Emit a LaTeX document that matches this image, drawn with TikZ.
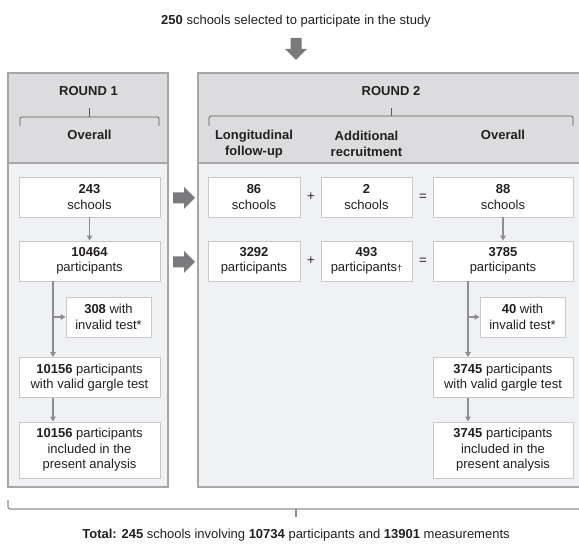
\documentclass[tikz,border=0pt]{standalone}
\usepackage{fontspec}
\setmainfont{Liberation Sans}
\usetikzlibrary{arrows.meta}
\definecolor{headfill}{HTML}{DCDCDE}
\definecolor{bodyfill}{HTML}{F0F1F3}
\definecolor{panelline}{HTML}{A6A6A8}
\definecolor{boxline}{HTML}{C8C8CA}
\definecolor{flowgray}{HTML}{8E8E90}
\definecolor{arrowgray}{HTML}{7A7A7C}
\definecolor{inkgray}{HTML}{231F20}
\tikzset{
  bigarrow/.pic={\fill[arrowgray] (-11,-5.5) -- (0,-5.5) -- (0,-11) -- (11,0) -- (0,11) -- (0,5.5) -- (-11,5.5) -- cycle;}
}

\begin{document}
\begin{tikzpicture}[x=1pt,y=-1pt,text=inkgray,font=\fontsize{13}{15.5}\selectfont,
  panel/.style={draw=panelline,line width=1.4pt},
  box/.style={draw=boxline,fill=white,line width=0.9pt,align=center,inner sep=0pt,minimum height=40pt},
  flow/.style={draw=flowgray,line width=1.3pt,-{Triangle[length=5pt,width=5.5pt]}},
  brace/.style={draw=inkgray!75,line width=0.7pt,rounded corners=2pt},
  sign/.style={inner sep=1pt}]
\useasboundingbox (0,0) rectangle (579,545);
% panels
\fill[bodyfill] (8,73) rectangle (168,487);
\fill[headfill] (8,73) rectangle (168,163);
\fill[bodyfill] (198,73) rectangle (586,487);
\fill[headfill] (198,73) rectangle (586,163);
\draw[panel] (8,163) -- (168,163);
\draw[panel] (198,163) -- (586,163);
\draw[panel] (8,73) rectangle (168,487);
\draw[panel] (198,73) rectangle (586,487);
\node (selected) at (296,21) {\textbf{250} schools selected to participate in the study};
\pic at (296,49) [rotate=-90] {bigarrow};
% headers
\node (r1title) at (88.5,91) {\textbf{ROUND 1}};
\draw[brace] (20,126) -- (20,117) -- (159,117) -- (159,126);
\draw[brace] (89.5,117) -- (89.5,108);
\node (r1overall) at (89.5,135) {\textbf{Overall}};
\node (r2title) at (391,91) {\textbf{ROUND 2}};
\draw[brace] (209,126) -- (209,116) -- (573,116) -- (573,126);
\draw[brace] (391,116) -- (391,108);
\node[align=center] (longi) at (254,144) {\textbf{Longitudinal}\\\textbf{follow-up}};
\node[align=center] (addrec) at (366.5,144) {\textbf{Additional}\\\textbf{recruitment}};
\node (r2overall) at (503,135) {\textbf{Overall}};
% round 1
\node[box,minimum width=141pt] (schA) at (89.5,197) {\textbf{243}\\schools};
\node[box,minimum width=141pt] (partA) at (89.5,261) {\textbf{10464}\\participants};
\node[box,minimum width=85pt] (invA) at (108.5,317) {\textbf{308} with\\invalid test*};
\node[box,minimum width=141pt] (validA) at (89.5,377.5) {\textbf{10156} participants\\with valid gargle test};
\node[box,minimum width=141pt,minimum height=56pt] (finalA) at (89.5,450) {\textbf{10156} participants\\included in the\\present analysis};
\coordinate (trunkA) at (53,0);
\draw[flow] (schA) -- (partA);
\draw[flow] (partA.south -| trunkA) -- (validA.north -| trunkA);
\draw[flow] (invA.west -| trunkA) -- (invA.west);
\draw[flow] (validA.south -| trunkA) -- (finalA.north -| trunkA);
\pic at (184,198) {bigarrow};
\pic at (184,262) {bigarrow};
% round 2
\node[box,minimum width=92pt] (schL) at (254,197) {\textbf{86}\\schools};
\node[sign] (plusS) at (311,197) {+};
\node[box,minimum width=91pt] (schN) at (366.5,197) {\textbf{2}\\schools};
\node[sign] (eqS) at (423,197) {=};
\node[box,minimum width=140pt] (schB) at (503,197) {\textbf{88}\\schools};
\node[box,minimum width=92pt] (partL) at (254,261) {\textbf{3292}\\participants};
\node[sign] (plusP) at (311,261) {+};
\node[box,minimum width=91pt] (partN) at (366.5,261) {\textbf{493}\\participants\raisebox{0.5pt}{\small †}};
\node[sign] (eqP) at (423,261) {=};
\node[box,minimum width=140pt] (partB) at (503,261) {\textbf{3785}\\participants};
\node[box,minimum width=85pt] (invB) at (522.5,317) {\textbf{40} with\\invalid test*};
\node[box,minimum width=140pt] (validB) at (503,377.5) {\textbf{3745} participants\\with valid gargle test};
\node[box,minimum width=140pt,minimum height=56pt] (finalB) at (503,450) {\textbf{3745} participants\\included in the\\present analysis};
\coordinate (trunkB) at (468,0);
\draw[flow] (schB) -- (partB);
\draw[flow] (partB.south -| trunkB) -- (validB.north -| trunkB);
\draw[flow] (invB.west -| trunkB) -- (invB.west);
\draw[flow] (validB.south -| trunkB) -- (finalB.north -| trunkB);
% total
\draw[brace,draw=flowgray,line width=1.1pt] (8,500) -- (8,509) -- (584,509) -- (584,500);
\draw[flowgray,line width=1.1pt] (296,509) -- (296,517);
\node (total) at (296,535) {\textbf{Total:} \textbf{245} schools involving \textbf{10734} participants and \textbf{13901} measurements};
\end{tikzpicture}
\end{document}
